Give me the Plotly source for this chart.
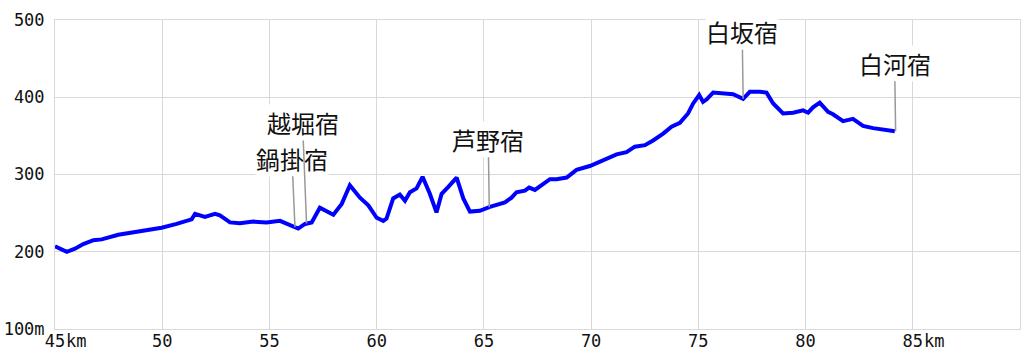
import numpy as np
import plotly.graph_objects as go

# Elevation profile (distance in km, elevation in m)
km = [45.0, 45.23, 45.55, 45.93, 46.32, 46.79, 47.18, 47.95, 48.65, 49.27, 49.97,
      50.67, 51.21, 51.37, 51.53, 51.99, 52.46, 52.69, 53.16, 53.62, 54.25, 54.87,
      55.49, 55.88, 56.34, 56.66, 56.97, 57.35, 57.98, 58.37, 58.75, 59.22, 59.61,
      60.0, 60.31, 60.46, 60.77, 61.08, 61.32, 61.55, 61.86, 62.14, 62.48, 62.79,
      63.03, 63.34, 63.73, 64.04, 64.35, 64.81, 65.28, 65.98, 66.29, 66.52, 66.91,
      67.11, 67.38, 68.08, 68.39, 68.86, 69.32, 69.94, 70.56, 71.19, 71.65, 72.04,
      72.51, 72.89, 73.36, 73.75, 74.14, 74.52, 74.76, 75.04, 75.22, 75.38, 75.69,
      76.16, 76.62, 77.09, 77.40, 77.87, 78.18, 78.49, 78.95, 79.42, 79.88, 80.12,
      80.35, 80.66, 81.05, 81.28, 81.75, 82.21, 82.68, 83.15, 83.77, 84.16]
elev = [207, 204, 200, 204, 210, 215, 216, 222, 225, 228, 231,
        236, 240, 242, 249, 245, 249, 247, 238, 237, 239, 238,
        240, 235, 230, 236, 238, 257, 248, 262, 286, 270, 260,
        244, 240, 243, 269, 274, 266, 277, 282, 297, 275, 251,
        275, 284, 296, 269, 252, 253, 258, 264, 270, 277, 279,
        283, 280, 294, 294, 296, 306, 311, 319, 326, 329, 336,
        338, 344, 353, 362, 367, 379, 392, 403, 394, 397, 406,
        405, 404, 398, 407, 407, 406, 392, 379, 380, 383, 380,
        387, 393, 381, 378, 369, 372, 363, 360, 358, 356]

# Post towns along the route
stations = ["鍋掛宿", "越堀宿", "芦野宿", "白坂宿", "白河宿"]
station_km = [56.19, 56.73, 65.25, 77.09, 84.2]

x_ticks = [45, 50, 55, 60, 65, 70, 75, 80, 85]
x_tick_text = ["45", "50", "55", "60", "65", "70", "75", "80", "85"]
y_ticks = [100, 200, 300, 400, 500]
y_tick_text = ["100m", "200", "300", "400", "500"]

TICK_FONT = "DejaVu Sans Mono"

fig = go.Figure()
fig.add_trace(go.Scatter(x=km, y=elev, mode="lines",
                         line=dict(color="#0000ff", width=4),
                         hoverinfo="x+y", showlegend=False))

# Label offsets (pixels) for leader lines
label_offsets = [(-3, -69), (-4, -101), (-1, -68), (-1, -67), (-1, -68)]
station_elev = np.interp(station_km, km, elev)
for name, sx, sy, (ax, ay) in zip(stations, station_km, station_elev, label_offsets):
    fig.add_annotation(x=sx, y=sy, xref="x", yref="y", text=name,
                       showarrow=True, arrowhead=0, arrowwidth=1.5,
                       arrowcolor="#999999", ax=ax, ay=ay,
                       bgcolor="white", borderpad=0,
                       font=dict(family="Noto Sans CJK JP", size=24, color="#111111"))

# km unit after first and last tick label
for v in (45, 85):
    fig.add_annotation(x=v, y=0, xref="x", yref="paper", text="km",
                       showarrow=False, xanchor="left", yanchor="top",
                       xshift=9, yshift=0,
                       font=dict(family=TICK_FONT, size=17, color="#111111"))

fig.update_xaxes(range=[45, 90], tickvals=x_ticks, ticktext=x_tick_text,
                 showgrid=True, gridcolor="#d9d9d9", gridwidth=1,
                 showline=True, linecolor="#d9d9d9", linewidth=1, mirror=True,
                 zeroline=False, ticks="", ticklabelstandoff=-3, automargin=False,
                 tickfont=dict(family=TICK_FONT, size=17, color="#111111"))
fig.update_yaxes(range=[100, 500], tickvals=y_ticks, ticktext=y_tick_text,
                 showgrid=True, gridcolor="#d9d9d9", gridwidth=1,
                 showline=True, linecolor="#d9d9d9", linewidth=1, mirror=True,
                 zeroline=False, ticks="", ticklabelstandoff=6, automargin=False,
                 tickfont=dict(family=TICK_FONT, size=17, color="#111111"))

fig.update_layout(width=1024, height=362,
                  margin=dict(l=55, r=4, t=20, b=33),
                  paper_bgcolor="white", plot_bgcolor="white")

fig.write_html("out.html")
